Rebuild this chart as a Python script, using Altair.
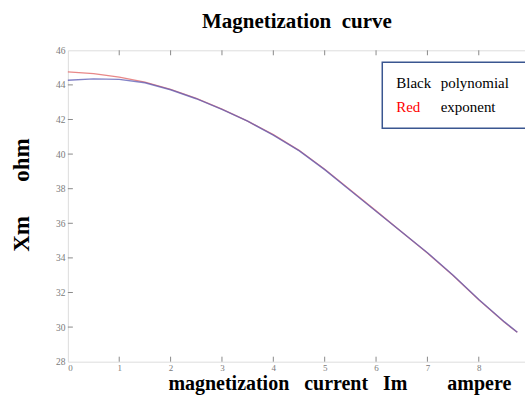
import altair as alt
import pandas as pd

# Magnetization current (A)
im = [0, 0.5, 1.0, 1.5, 2.0, 2.5, 3.0, 3.5, 4.0, 4.5, 5.0, 5.5, 6.0, 6.5, 7.0, 7.5, 8.0, 8.5, 8.75]
# Xm (ohm), polynomial fit
poly = [44.27, 44.35, 44.32, 44.12, 43.72, 43.2, 42.58, 41.9, 41.1, 40.2, 39.1, 37.9, 36.7, 35.5, 34.3, 33.0, 31.6, 30.3, 29.7]
# Xm (ohm), exponential fit
expo = [44.75, 44.65, 44.45, 44.16, 43.74, 43.22, 42.6, 41.9, 41.12, 40.22, 39.12, 37.92, 36.72, 35.5, 34.28, 32.98, 31.58, 30.28, 29.7]

x_ticks = [0, 1, 2, 3, 4, 5, 6, 7, 8]
y_ticks = [28, 30, 32, 34, 36, 38, 40, 42, 44, 46]
title_text = "Magnetization\u00a0\u00a0curve"

rows = []
for xv, pv, ev in zip(im, poly, expo):
    rows.append({"Im": xv, "Xm": ev, "series": "exponent"})
for xv, pv, ev in zip(im, poly, expo):
    rows.append({"Im": xv, "Xm": pv, "series": "polynomial"})
df = pd.DataFrame(rows)

W, H = 458, 312
GREY = "#8a8a8a"
SERIF = "Liberation Serif"
LAB = "Liberation Sans Narrow"

xs = alt.Scale(domain=[0, 8.9], nice=False, zero=False)
ys = alt.Scale(domain=[28, 46], nice=False, zero=False)

x_axis = alt.Axis(
    values=x_ticks, format="d", grid=False, ticks=False, domain=False, labelOverlap=False,
    labelFont=LAB, labelFontSize=9, labelColor="#7a7a7a", labelPadding=1.5,
    title="magnetization\u00a0\u00a0 current\u00a0\u00a0 Im\u00a0\u00a0\u00a0\u00a0\u00a0\u00a0\u00a0 ampere",
    titleFont=SERIF, titleFontSize=20, titleFontWeight="bold", titleColor="black",
    titleX=272, titleY=27.5, titleAlign="center", titleBaseline="alphabetic",
)
y_axis = alt.Axis(
    values=y_ticks, format="d", grid=False, ticks=False, domain=False, labelOverlap=False,
    labelFlush=False,
    labelFont=LAB, labelFontSize=9.5, labelColor="#7a7a7a", labelPadding=3,
    title="Xm\u00a0\u00a0\u00a0\u00a0\u00a0\u00a0ohm",
    titleFont=SERIF, titleFontSize=23, titleFontWeight="bold", titleColor="black",
    titleX=-46.5, titleY=144.5, titleAngle=270, titleAlign="center", titleBaseline="middle",
)

lines = alt.Chart(df).mark_line(strokeWidth=1.4, opacity=0.75).encode(
    x=alt.X("Im:Q", scale=xs, axis=x_axis),
    y=alt.Y("Xm:Q", scale=ys, axis=y_axis),
    color=alt.Color("series:N",
                    scale=alt.Scale(domain=["exponent", "polynomial"], range=["#e06060", "#5a5ab4"]),
                    legend=None),
    order=alt.Order("Im:Q"),
)

xt = pd.DataFrame({"t": x_ticks[1:]})
yt = pd.DataFrame({"t": y_ticks[1:-1]})

bot_ticks = alt.Chart(xt).mark_rule(color=GREY, strokeWidth=1).encode(
    x=alt.X("t:Q", scale=xs, axis=x_axis), y=alt.value(H), y2=alt.value(H - 5))
top_ticks = alt.Chart(xt).mark_rule(color=GREY, strokeWidth=1).encode(
    x=alt.X("t:Q", scale=xs, axis=x_axis), y=alt.value(0), y2=alt.value(5))
left_ticks = alt.Chart(yt).mark_rule(color=GREY, strokeWidth=1).encode(
    y=alt.Y("t:Q", scale=ys, axis=y_axis), x=alt.value(0), x2=alt.value(5))

# legend box (annotation)
box = alt.Chart(pd.DataFrame({"a": [0]})).mark_rect(
    fill="white", stroke="#3a5690", strokeWidth=1.5).encode(
    x=alt.value(315), x2=alt.value(470), y=alt.value(12), y2=alt.value(78))

leg = pd.DataFrame({
    "label": ["Black", "polynomial", "Red", "exponent"],
    "px": [329, 373.5, 329, 373.5],
    "py": [37.7, 37.7, 62.3, 62.3],
    "col": ["black", "black", "red", "black"],
})
leg_text = alt.Chart(leg).mark_text(
    font=SERIF, fontSize=15, align="left", baseline="alphabetic").encode(
    x=alt.X("px:Q", scale=None), y=alt.Y("py:Q", scale=None),
    text="label:N", color=alt.Color("col:N", scale=None))

title_mark = alt.Chart(pd.DataFrame({"t": [title_text]})).mark_text(
    font=SERIF, fontSize=21, fontWeight="bold", color="black",
    align="center", baseline="alphabetic").encode(
    text="t:N", x=alt.value(229.5), y=alt.value(-22))

chart = alt.layer(lines, bot_ticks, top_ticks, left_ticks, box, leg_text, title_mark).properties(
    width=W, height=H,
    autosize=alt.AutoSizeParams(type="none"),
    padding={"left": 68, "top": 50, "right": 0, "bottom": 39},
).configure_view(stroke=GREY, strokeWidth=1.5).configure(background="white")

chart.save("out.html", embed_options={"renderer": "svg", "actions": False})
